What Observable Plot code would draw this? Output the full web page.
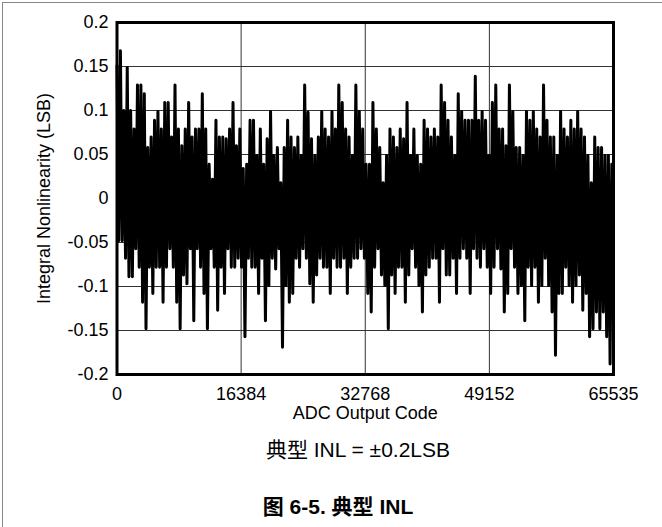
<!DOCTYPE html>
<html><head><meta charset="utf-8">
<script src="https://cdn.jsdelivr.net/npm/d3@7"></script>
<script src="https://cdn.jsdelivr.net/npm/@observablehq/plot@0.6"></script>
<style>
html,body{margin:0;padding:0;background:#fff;}
#wrap{position:relative;width:662px;height:527px;overflow:hidden;font-family:"Liberation Sans",Arial,"Noto Sans CJK SC",sans-serif;color:#000;}
#border{position:absolute;left:2px;top:2px;width:700px;height:600px;border-left:1px solid #888;border-top:1px solid #888;}
#chart{position:absolute;left:0;top:0;}
.txt{position:absolute;text-align:center;font-size:21px;line-height:24px;white-space:nowrap;}
#sub{top:438px;left:0;width:716px;}
#cap{top:495px;left:0;width:676px;font-weight:bold;}
</style></head>
<body>
<div id="wrap">
  <div id="border"></div>
  <div id="chart"></div>
  <div class="txt" id="sub"></div>
  <div class="txt" id="cap"></div>
</div>
<script>
// Upper excursions of INL (LSB), left to right
const inlUpper = [
  0.151,0.168,0.100,0.149,0.100,0.079,0.129,0.129,0.119,0.058,0.070,0.089,0.099,0.079,0.109,0.109,0.070,0.129,0.079,0.060,0.079,0.109,0.070,0.079,0.079,0.119,0.079,0.039,0.022,0.089,0.070,0.070,0.068,0.079,
  0.109,0.060,0.079,0.034,0.039,0.089,0.089,0.049,0.079,0.039,0.068,0.099,0.049,0.058,0.018,0.058,0.089,0.070,0.058,0.070,0.049,0.129,0.098,0.068,0.049,0.070,0.099,0.079,0.070,0.099,0.079,0.129,0.109,0.079,0.070,0.049,0.129,0.099,
  0.079,0.039,0.039,0.109,0.079,0.058,0.018,0.049,0.079,0.070,0.058,0.079,0.068,0.109,0.049,0.079,0.049,0.039,0.089,0.079,0.070,0.079,0.070,0.129,0.109,0.089,0.070,0.049,0.119,0.099,0.089,0.089,0.089,0.139,0.089,0.099,
  0.089,0.049,0.109,0.129,0.079,0.079,0.060,0.129,0.099,0.058,0.058,0.049,0.099,0.089,0.099,0.079,0.070,0.129,0.089,0.070,0.070,0.049,0.099,0.079,0.070,0.089,0.079,0.099,0.079,0.070,0.049,0.018,0.070,0.058,0.058,0.049,0.049,0.039
];
// Lower excursions of INL (LSB), left to right
const inlLower = [
  -0.048,-0.048,-0.068,-0.089,-0.089,-0.057,-0.078,-0.118,-0.148,-0.078,-0.108,-0.078,-0.078,-0.118,-0.078,-0.057,-0.078,-0.118,-0.148,-0.087,-0.097,-0.057,-0.139,-0.057,-0.078,-0.108,-0.148,-0.057,-0.078,-0.127,-0.078,-0.108,-0.057,-0.078,
  -0.078,-0.068,-0.078,-0.157,-0.068,-0.078,-0.078,-0.108,-0.068,-0.139,-0.099,-0.068,-0.080,-0.057,-0.169,-0.099,-0.118,-0.108,-0.068,-0.078,-0.057,-0.068,-0.097,-0.118,-0.087,-0.068,-0.078,-0.078,-0.108,-0.068,-0.078,-0.078,-0.068,-0.108,-0.078,-0.068,-0.068,-0.057,
  -0.068,-0.108,-0.129,-0.078,-0.057,-0.087,-0.099,-0.148,-0.087,-0.108,-0.078,-0.078,-0.118,-0.087,-0.057,-0.078,-0.099,-0.129,-0.087,-0.078,-0.068,-0.068,-0.118,-0.057,-0.087,-0.087,-0.068,-0.108,-0.068,-0.057,-0.068,-0.108,-0.057,-0.068,-0.078,-0.057,
  -0.078,-0.108,-0.078,-0.057,-0.080,-0.129,-0.108,-0.057,-0.078,-0.108,-0.099,-0.139,-0.078,-0.099,-0.078,-0.118,-0.099,-0.068,-0.099,-0.129,-0.178,-0.108,-0.108,-0.078,-0.099,-0.118,-0.099,-0.087,-0.127,-0.108,-0.157,-0.148,-0.129,-0.148,-0.129,-0.157,-0.188,-0.129
];
const xTicks = [0, 16384, 32768, 49152, 65535];
const xTickLabels = ["0", "16384", "32768", "49152", "65535"];
const yTicks = [-0.2, -0.15, -0.1, -0.05, 0, 0.05, 0.1, 0.15, 0.2];
const yTickLabels = ["-0.2", "-0.15", "-0.1", "-0.05", "0", "0.05", "0.1", "0.15", "0.2"];
const xTitle = "ADC Output Code";
const yTitle = "Integral Nonlinearity (LSB)";
const subtitle = "典型 INL = ±0.2LSB";
const caption = "图 6-5. 典型 INL";
const maxCode = 65535;

// interleave upper/lower excursions as a sequence along the code axis
const n = Math.min(inlUpper.length, inlLower.length);
const series = [];
for (let i = 0; i < n; i++) {
  series.push({k: 2 * i, v: inlUpper[i]});
  series.push({k: 2 * i + 1, v: inlLower[i]});
}
const total = series.length - 1;
series.forEach(d => d.code = d.k / total * maxCode);

const font = '"Liberation Sans", Arial, sans-serif';
const chart = Plot.plot({
  width: 662,
  height: 430,
  marginLeft: 116.5,
  marginRight: 49,
  marginTop: 22,
  marginBottom: 56,
  style: {fontFamily: font, fontSize: "18px", color: "#000", background: "transparent"},
  x: {domain: [0, maxCode]},
  y: {domain: [-0.2, 0.2]},
  marks: [
    Plot.gridX(xTicks, {stroke: "#333", strokeOpacity: 1, strokeWidth: 1}),
    Plot.gridY(yTicks, {stroke: "#333", strokeOpacity: 1, strokeWidth: 1}),
    Plot.line(series, {x: "code", y: "v", stroke: "#000", strokeWidth: 3, strokeLinejoin: "round"}),
    Plot.frame({stroke: "#000", strokeWidth: 3}),
    Plot.axisX({ticks: xTicks, tickSize: 0, tickPadding: 13, label: null,
      tickFormat: d => xTickLabels[xTicks.indexOf(d)], fontSize: 18}),
    Plot.axisY({ticks: yTicks, tickSize: 0, tickPadding: 8.5, label: null,
      tickFormat: d => yTickLabels[yTicks.indexOf(d)], fontSize: 18}),
    Plot.text([xTitle], {frameAnchor: "bottom", lineAnchor: "middle", textAnchor: "middle", dy: 39, text: d => d, fontSize: 18, fill: "#000"}),
    Plot.text([yTitle], {frameAnchor: "left", lineAnchor: "middle", textAnchor: "middle", dx: -73, rotate: -90, text: d => d, fontSize: 18, fill: "#000"})
  ]
});
document.getElementById("chart").appendChild(chart);
document.getElementById("sub").textContent = subtitle;
document.getElementById("cap").textContent = caption;
</script>
</body></html>
